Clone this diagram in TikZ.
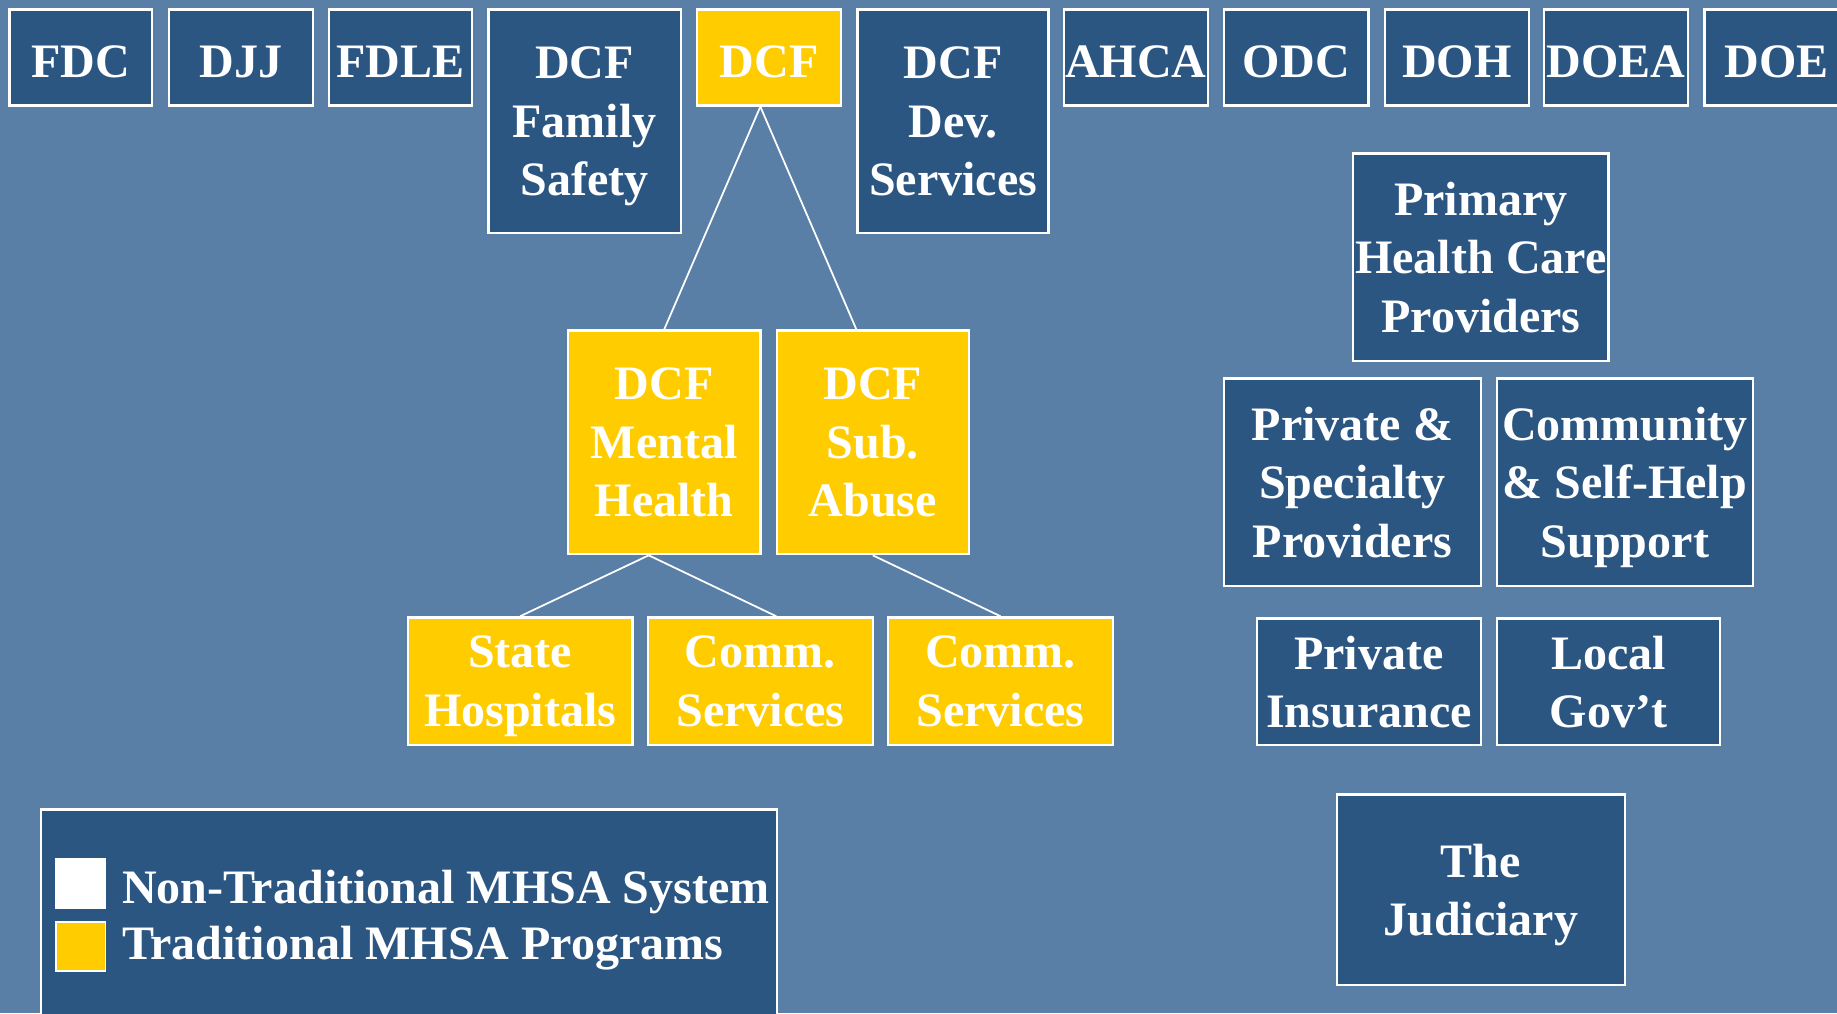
\documentclass[tikz,border=0pt]{standalone}
\usepackage{fontspec}
\setmainfont{Liberation Serif}
\usetikzlibrary{calc}
\definecolor{bgblue}{RGB}{90,127,166}
\definecolor{boxblue}{RGB}{44,86,130}
\definecolor{gold}{RGB}{255,204,0}
\begin{document}
\begin{tikzpicture}[x=1pt,y=-1pt,
  txt/.style={text=white,font=\fontsize{41}{50}\selectfont\bfseries,align=center,inner sep=0pt},
  sbox/.style={txt,draw=white,line width=2pt,fill=boxblue,minimum height=82pt,minimum width=123pt,
    execute at begin node={\strut},execute at end node={\strut},text depth=0pt},
  box/.style={sbox,execute at begin node={\rule{0pt}{39pt}}},
  tbox/.style={box,fill=gold},
  tsbox/.style={sbox,fill=gold},
  link/.style={draw=white,line width=1.5pt},
  legsq/.style={draw=white,line width=1.5pt,minimum size=42pt,inner sep=0pt}]
\clip (0,0) rectangle (1568,865);
\fill[bgblue] (0,0) rectangle (1568,865);
% top row
\node[sbox,minimum width=122pt] (fdc) at (69,49) {FDC};
\node[sbox] (djj) at (205.5,49) {DJJ};
\node[sbox,minimum width=122pt] (fdle) at (342,49) {FDLE};
\node[box,minimum width=164pt,minimum height=191pt] (famsafe) at (499,103.5) {DCF\\Family\\Safety};
\node[tsbox] (dcf) at (656.5,49) {DCF};
\node[box,minimum width=163pt,minimum height=191pt] (devserv) at (813.5,103.5) {DCF\\Dev.\\Services};
\node[sbox] (ahca) at (969.5,49) {AHCA};
\node[sbox] (odc) at (1106.5,49) {ODC};
\node[sbox] (doh) at (1243.5,49) {DOH};
\node[sbox] (doea) at (1379.5,49) {DOEA};
\node[sbox] (doe) at (1516.5,49) {DOE};
% right column
\node[box,minimum width=218pt,minimum height=177pt] (primary) at (1264,219.5) {Primary\\Health Care\\Providers};
\node[box,minimum width=219pt,minimum height=177pt] (privspec) at (1154.5,411.5) {Private \&\\Specialty\\Providers};
\node[box,minimum width=218pt,minimum height=177pt] (community) at (1387,411.5) {Community\\\& Self-Help\\Support};
\node[box,minimum width=191pt,minimum height=108pt] (privins) at (1168.5,582) {Private\\Insurance};
\node[box,minimum width=190pt,minimum height=108pt] (localgov) at (1373,582) {Local\\Gov’t};
\node[box,minimum width=246pt,minimum height=163pt] (judiciary) at (1264,759.5) {The\\Judiciary};
% traditional programs
\node[tbox,minimum width=164pt,minimum height=191pt] (mh) at (567,377.5) {DCF\\Mental\\Health};
\node[tbox,minimum width=164pt,minimum height=191pt] (sa) at (745,377.5) {DCF\\Sub.\\Abuse};
\node[tbox,minimum width=192pt,minimum height=109pt] (statehosp) at (444,581.5) {State\\Hospitals};
\node[tbox,minimum width=192pt,minimum height=109pt] (comm1) at (649,581.5) {Comm.\\Services};
\node[tbox,minimum width=192pt,minimum height=109pt] (comm2) at (854,581.5) {Comm.\\Services};
% connectors
\coordinate (dcfapex) at ($(dcf.south west)!0.44!(dcf.south east)$);
\coordinate (satop) at ($(sa.north west)!0.415!(sa.north east)$);
\coordinate (mhbot) at ($(mh.south west)!0.42!(mh.south east)$);
\coordinate (c1top) at ($(comm1.north west)!0.57!(comm1.north east)$);
\draw[link] (dcfapex) -- (mh.north);
\draw[link] (dcfapex) -- (satop);
\draw[link] (mhbot) -- (statehosp.north);
\draw[link] (mhbot) -- (c1top);
\draw[link] (sa.south) -- (comm2.north);
% legend
\node[draw=white,line width=2pt,fill=boxblue,minimum width=628pt,minimum height=179pt,inner sep=0pt] (legend) at (349,780.5) {};
\node[legsq,fill=white] (sqwhite) at (69,754) {};
\node[legsq,fill=gold] (sqgold) at (69,808) {};
\node[txt,anchor=base west] (legnon) at (104,771) {Non-Traditional MHSA System};
\node[txt,anchor=base west] (legtrad) at (104,819) {Traditional MHSA Programs};
\end{tikzpicture}
\end{document}
